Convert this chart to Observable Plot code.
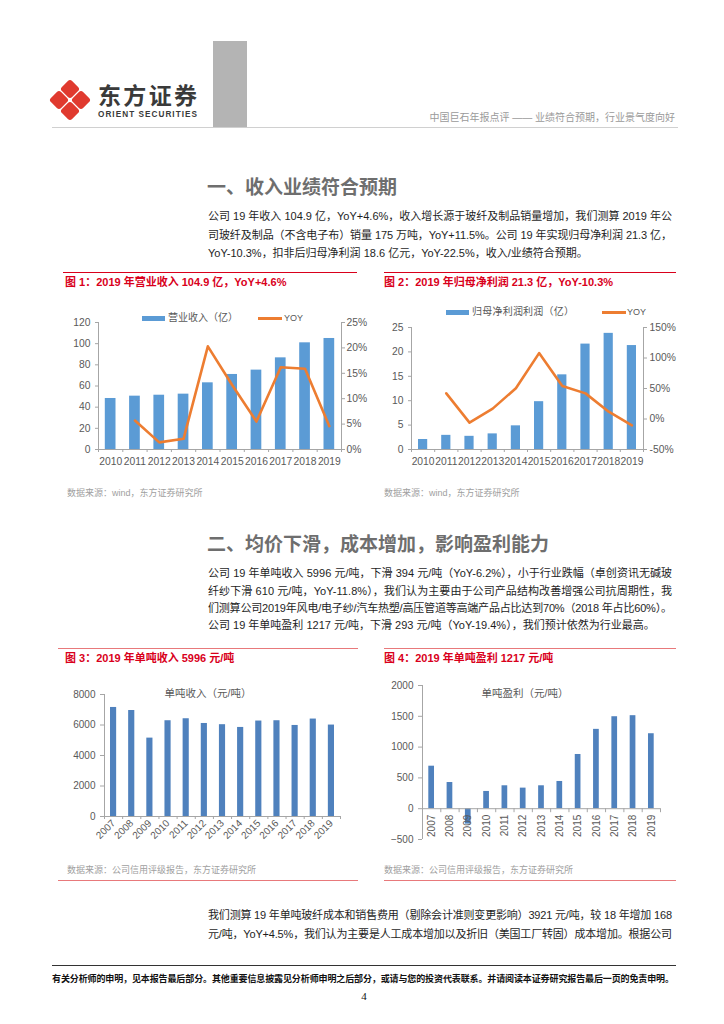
<!DOCTYPE html>
<html><head><meta charset="utf-8">
<script src="https://cdn.jsdelivr.net/npm/d3@7"></script>
<script src="https://cdn.jsdelivr.net/npm/@observablehq/plot@0.6"></script>
<style>
body{margin:0;background:#fff;}
#page{position:relative;width:724px;height:1024px;overflow:hidden;font-family:"Liberation Sans","Noto Sans CJK SC",sans-serif;}
.abs{position:absolute;white-space:nowrap;}
.chart{position:absolute;}
</style></head><body><div id="page"></div>
<script>
// ---------- data ----------
const revYears = [2010, 2011, 2012, 2013, 2014, 2015, 2016, 2017, 2018, 2019];
const revenue = [48.2, 50.4, 51.3, 52.3, 63.0, 70.9, 75.0, 86.6, 100.8, 104.9];
const revenueYoY = [null, 5.7, 1.4, 2.1, 20.3, 12.7, 5.5, 16.2, 15.9, 4.6];
const profit = [2.05, 2.9, 2.7, 3.2, 4.85, 9.8, 15.3, 21.6, 23.8, 21.3];
const profitYoY = [null, 42, -6, 17, 50.5, 108, 54, 42, 12, -10.3];
const unitYears = [2007, 2008, 2009, 2010, 2011, 2012, 2013, 2014, 2015, 2016, 2017, 2018, 2019];
const unitRevenue = [7150, 6950, 5140, 6280, 6410, 6100, 6020, 5840, 6260, 6280, 5970, 6390, 5996];
const unitProfit = [690, 425, -250, 280, 372, 334, 372, 442, 880, 1288, 1493, 1510, 1217];

const revTicks = [0, 20, 40, 60, 80, 100, 120];
const revYoYTicks = [0, 5, 10, 15, 20, 25];
const profitTicks = [0, 5, 10, 15, 20, 25];
const profitYoYTicks = [-50, 0, 50, 100, 150];
const unitRevTicks = [0, 2000, 4000, 6000, 8000];
const unitProfitTicks = [-500, 0, 500, 1000, 1500, 2000];

const header = "中国巨石年报点评 —— 业绩符合预期，行业景气度向好";
const title1 = "一、收入业绩符合预期";
const title2 = "二、均价下滑，成本增加，影响盈利能力";
const para1 = [
  "公司 19 年收入 104.9 亿，YoY+4.6%，收入增长源于玻纤及制品销量增加，我们测算 2019 年公",
  "司玻纤及制品（不含电子布）销量 175 万吨，YoY+11.5%。公司 19 年实现归母净利润 21.3 亿，",
  "YoY-10.3%，扣非后归母净利润 18.6 亿元，YoY-22.5%，收入/业绩符合预期。"
];
const para2 = [
  "公司 19 年单吨收入 5996 元/吨，下滑 394 元/吨（YoY-6.2%），小于行业跌幅（卓创资讯无碱玻",
  "纤纱下滑 610 元/吨，YoY-11.8%），我们认为主要由于公司产品结构改善增强公司抗周期性，我",
  "们测算公司2019年风电/电子纱/汽车热塑/高压管道等高端产品占比达到70%（2018 年占比60%）。",
  "公司 19 年单吨盈利 1217 元/吨，下滑 293 元/吨（YoY-19.4%），我们预计依然为行业最高。"
];
const para3 = [
  "我们测算 19 年单吨玻纤成本和销售费用（剔除会计准则变更影响）3921 元/吨，较 18 年增加 168",
  "元/吨，YoY+4.5%，我们认为主要是人工成本增加以及折旧（美国工厂转固）成本增加。根据公司"
];
const figTitles = [
  "图 1：2019 年营业收入 104.9 亿，YoY+4.6%",
  "图 2：2019 年归母净利润 21.3 亿，YoY-10.3%",
  "图 3：2019 年单吨收入 5996 元/吨",
  "图 4：2019 年单吨盈利 1217 元/吨"
];
const legend1 = ["营业收入（亿）", "YOY"];
const legend2 = ["归母净利润利润（亿）", "YOY"];
const chartLabel3 = "单吨收入（元/吨）";
const chartLabel4 = "单吨盈利（元/吨）";
const source12 = "数据来源：wind，东方证券研究所";
const source34 = "数据来源：公司信用评级报告，东方证券研究所";
const footer = "有关分析师的申明，见本报告最后部分。其他重要信息披露见分析师申明之后部分，或请与您的投资代表联系。并请阅读本证券研究报告最后一页的免责申明。";
const pageNo = "4";

// ---------- helpers ----------
const page = document.getElementById("page");
function box(x, y, w, h, bg) {
  const d = document.createElement("div");
  d.className = "abs";
  Object.assign(d.style, {left: x + "px", top: y + "px", width: w + "px", height: h + "px", background: bg});
  page.appendChild(d); return d;
}
function txt(s, x, yc, size, opts = {}) {
  const d = document.createElement("div");
  d.className = "abs";
  d.textContent = s;
  const lh = size * 1.2;
  Object.assign(d.style, {left: x + "px", top: (yc - lh / 2) + "px", fontSize: size + "px", lineHeight: lh + "px",
    color: opts.color || "#222", fontWeight: opts.bold ? "bold" : "normal"});
  if (opts.font) d.style.fontFamily = opts.font;
  if (opts.ls != null) d.style.letterSpacing = opts.ls + "px";
  page.appendChild(d);
  if (opts.right != null) { d.style.left = (opts.right - d.getBoundingClientRect().width) + "px"; }
  if (opts.center != null) { d.style.left = (opts.center - d.getBoundingClientRect().width / 2) + "px"; }
  if (opts.fit != null) {
    const w = d.getBoundingClientRect().width;
    const n = [...s].length;
    if (n > 1) d.style.letterSpacing = ((opts.fit - w) / (n - 1)) + "px";
  }
  return d;
}
function para(lines, x, y0, dy, width) {
  lines.forEach((s, i) => {
    const last = i === lines.length - 1;
    const d = txt(s, x, y0 + i * dy, 11, {color: "#1e1e1e"});
    const w = d.getBoundingClientRect().width;
    if (!last || w > width) {
      const n = [...s].length;
      d.style.letterSpacing = ((width - w) / (n - 1)) + "px";
    }
  });
}
function addChart(svg, x, y) {
  svg.classList.add("chart");
  svg.style.left = x + "px"; svg.style.top = y + "px";
  svg.style.overflow = "visible";
  page.appendChild(svg);
}

// ---------- header ----------
const logo = document.createElementNS("http://www.w3.org/2000/svg", "svg");
logo.setAttribute("width", 50); logo.setAttribute("height", 50);
logo.style.position = "absolute"; logo.style.left = "45px"; logo.style.top = "75px";
[[25, 14], [14, 25], [36, 25], [25, 36]].forEach(([cx, cy]) => {
  const r = document.createElementNS("http://www.w3.org/2000/svg", "rect");
  r.setAttribute("x", cx - 7.2); r.setAttribute("y", cy - 7.2);
  r.setAttribute("width", 14.4); r.setAttribute("height", 14.4);
  r.setAttribute("rx", 3); r.setAttribute("fill", "#e03a2f");
  r.setAttribute("transform", `rotate(45 ${cx} ${cy})`);
  logo.appendChild(r);
});
page.appendChild(logo);
txt("东方证券", 98, 95, 23, {bold: true, color: "#3a3a3a", font: "'Noto Sans CJK SC'", fit: 99});
txt("ORIENT SECURITIES", 98, 114.5, 8.2, {bold: true, color: "#3a3a3a", fit: 99});
box(213, 41, 34, 86, "#b4b4b4");
box(52, 127, 626, 1, "#d0d0d0");
txt(header, 0, 118, 10, {color: "#9a9a9a", right: 675});

// ---------- section 1 ----------
txt(title1, 207, 186, 19, {bold: true, color: "#6e6e6e", font: "'Noto Sans CJK SC'"});
para(para1, 208, 217, 18.3, 464);

box(63, 272, 294, 1, "#d9001b");
box(384, 272, 292, 1, "#d9001b");
txt(figTitles[0], 65, 283, 11, {bold: true, color: "#d9001b"});
txt(figTitles[1], 384, 283, 11, {bold: true, color: "#d9001b"});

const axisGray = "#a6a6a6", labelGray = "#595959";
const baseStyle = {fontFamily: "Liberation Sans", fontSize: "10.3px", color: labelGray, background: "white"};

// chart 1
{
  const k = revTicks.at(-1) / revYoYTicks.at(-1);
  const data = revYears.map((year, i) => ({year, value: revenue[i], yoy: revenueYoY[i]}));
  const xd = [revYears[0] - 0.5, revYears.at(-1) + 0.5];
  const bounds = d3.range(xd[0], xd[1] + 0.01, 1);
  const svg = Plot.plot({
    width: 306, height: 180, marginLeft: 43, marginRight: 20, marginTop: 22, marginBottom: 31,
    style: baseStyle,
    x: {domain: xd, axis: null, label: null},
    y: {domain: [revTicks[0], revTicks.at(-1)], axis: null, label: null},
    marks: [
      Plot.rectY(data, {x1: d => d.year - 0.5, x2: d => d.year + 0.5, y: "value", fill: "#5b9bd5", insetLeft: 6.8, insetRight: 6.8}),
      Plot.ruleY([revTicks[0]], {stroke: axisGray}),
      Plot.ruleX([xd[0], xd[1]], {stroke: axisGray}),
      Plot.axisX({ticks: bounds, tickSize: 3, tickFormat: () => "", stroke: axisGray, label: null}),
      Plot.axisX({ticks: revYears, tickSize: 0, tickPadding: 8, tickFormat: d => String(d), fill: labelGray, label: null}),
      Plot.axisY({ticks: revTicks, tickSize: 3, tickPadding: 5, stroke: axisGray, fill: labelGray, label: null}),
      Plot.axisY({anchor: "right", ticks: revYoYTicks.map(v => v * k), tickFormat: d => `${Math.round(d / k)}%`, tickSize: 3, tickPadding: 2, stroke: axisGray, fill: labelGray, label: null}),
      Plot.line(data.filter(d => d.yoy != null), {x: "year", y: d => d.yoy * k, stroke: "#ed7d31", strokeWidth: 2.6, strokeLinejoin: "round"})
    ]
  });
  addChart(svg, 55, 300);
  box(142, 316, 23, 5, "#5b9bd5");
  txt(legend1[0], 168, 318, 10, {color: labelGray, fit: 70});
  box(258, 316.5, 24, 3, "#ed7d31");
  txt(legend1[1], 284, 318, 9, {color: labelGray});
  txt(source12, 67, 493, 9, {color: "#a0a0a0"});
}

// chart 2
{
  const lo = profitYoYTicks[0], hi = profitYoYTicks.at(-1);
  const ymax = profitTicks.at(-1);
  const map = v => (v - lo) / (hi - lo) * ymax;
  const data = revYears.map((year, i) => ({year, value: profit[i], yoy: profitYoY[i]}));
  const xd = [revYears[0] - 0.5, revYears.at(-1) + 0.5];
  const bounds = d3.range(xd[0], xd[1] + 0.01, 1);
  const svg = Plot.plot({
    width: 302, height: 180, marginLeft: 36, marginRight: 34, marginTop: 27, marginBottom: 31,
    style: baseStyle,
    x: {domain: xd, axis: null, label: null},
    y: {domain: [0, ymax], axis: null, label: null},
    marks: [
      Plot.rectY(data, {x1: d => d.year - 0.5, x2: d => d.year + 0.5, y: "value", fill: "#5b9bd5", insetLeft: 7, insetRight: 7}),
      Plot.ruleY([0], {stroke: axisGray}),
      Plot.ruleX([xd[0], xd[1]], {stroke: axisGray}),
      Plot.axisX({ticks: bounds, tickSize: 3, tickFormat: () => "", stroke: axisGray, label: null}),
      Plot.axisX({ticks: revYears, tickSize: 0, tickPadding: 8, tickFormat: d => String(d), fill: labelGray, label: null}),
      Plot.axisY({ticks: profitTicks, tickSize: 3, tickPadding: 5, stroke: axisGray, fill: labelGray, label: null}),
      Plot.axisY({anchor: "right", ticks: profitYoYTicks.map(map), tickFormat: d => `${Math.round(d / ymax * (hi - lo) + lo)}%`, tickSize: 3, tickPadding: 3, stroke: axisGray, fill: labelGray, label: null}),
      Plot.line(data.filter(d => d.yoy != null), {x: "year", y: d => map(d.yoy), stroke: "#ed7d31", strokeWidth: 2.6, strokeLinejoin: "round"})
    ]
  });
  addChart(svg, 375, 300);
  box(446, 310, 23, 5, "#5b9bd5");
  txt(legend2[0], 472, 312, 10, {color: labelGray, fit: 102});
  box(602, 310.5, 24, 3, "#ed7d31");
  txt(legend2[1], 627, 312, 9, {color: labelGray});
  txt(source12, 384, 493, 9, {color: "#a0a0a0"});
}

// ---------- section 2 ----------
txt(title2, 207, 543, 19, {bold: true, color: "#6e6e6e", font: "'Noto Sans CJK SC'"});
para(para2, 208, 574, 17.2, 464);

const pink = "#e8797b";
box(58, 648, 300, 1, pink);
box(384, 648, 292, 1, pink);
txt(figTitles[2], 65, 659, 11, {bold: true, color: "#d9001b"});
txt(figTitles[3], 384, 659, 11, {bold: true, color: "#d9001b"});

// chart 3
{
  const data = unitYears.map((year, i) => ({year, value: unitRevenue[i]}));
  const xd = [unitYears[0] - 0.5, unitYears.at(-1) + 0.5];
  const bounds = d3.range(xd[0], xd[1] + 0.01, 1);
  const svg = Plot.plot({
    width: 305, height: 185, marginLeft: 49, marginRight: 20, marginTop: 19, marginBottom: 44,
    style: {...baseStyle, fontSize: "10px"},
    x: {domain: xd, axis: null, label: null},
    y: {domain: [unitRevTicks[0], unitRevTicks.at(-1)], axis: null, label: null},
    marks: [
      Plot.rectY(data, {x1: d => d.year - 0.5, x2: d => d.year + 0.5, y: "value", fill: "#4f81bd", insetLeft: 6, insetRight: 6}),
      Plot.ruleY([0], {stroke: axisGray}),
      Plot.ruleX([xd[0]], {stroke: axisGray}),
      Plot.axisX({ticks: bounds, tickSize: 3, tickFormat: () => "", stroke: axisGray, label: null}),
      Plot.axisX({ticks: unitYears, tickSize: 0, tickPadding: 5, tickRotate: -45, tickFormat: d => String(d), fill: labelGray, label: null}),
      Plot.axisY({ticks: unitRevTicks, tickSize: 4, tickPadding: 5, tickFormat: d => String(d), stroke: axisGray, fill: labelGray, label: null})
    ]
  });
  addChart(svg, 55, 675);
  txt(chartLabel3, 0, 693, 10.5, {color: labelGray, center: 208});
  txt(source34, 67, 870, 9, {color: "#a0a0a0"});
  box(58, 880, 300, 1, pink);
}

// chart 4
{
  const data = unitYears.map((year, i) => ({year, value: unitProfit[i]}));
  const xd = [unitYears[0] - 0.5, unitYears.at(-1) + 0.5];
  const bounds = d3.range(xd[0], xd[1] + 0.01, 1);
  const yd = [unitProfitTicks[0], unitProfitTicks.at(-1)];
  const W = 302, H = 190, mt = 15, mb = 21;
  const zeroDy = -(H - mt - mb) * (0 - yd[0]) / (yd[1] - yd[0]);
  const svg = Plot.plot({
    width: W, height: H, marginLeft: 47, marginRight: 17, marginTop: mt, marginBottom: mb,
    style: {...baseStyle, fontSize: "10px"},
    x: {domain: xd, axis: null, label: null},
    y: {domain: yd, axis: null, label: null},
    marks: [
      Plot.rectY(data, {x1: d => d.year - 0.5, x2: d => d.year + 0.5, y: "value", fill: "#4f81bd", insetLeft: 6.3, insetRight: 6.3}),
      Plot.ruleY([0], {stroke: axisGray}),
      Plot.ruleX([xd[0]], {stroke: axisGray}),
      Plot.axisX({ticks: bounds, tickSize: 4, tickFormat: () => "", stroke: axisGray, dy: zeroDy, label: null}),
      Plot.text(unitYears, {x: d => d, y: d => 0, text: d => String(d), rotate: -90, textAnchor: "end", dy: 6, fill: labelGray}),
      Plot.axisY({ticks: unitProfitTicks, tickSize: 4, tickPadding: 5, tickFormat: d => (d < 0 ? "−" : "") + Math.abs(d), stroke: axisGray, fill: labelGray, label: null})
    ]
  });
  addChart(svg, 375, 670);
  txt(chartLabel4, 0, 693, 10.5, {color: labelGray, center: 525});
  txt(source34, 384, 870, 9, {color: "#a0a0a0"});
  box(384, 880, 292, 1, pink);
}

// ---------- section 3 & footer ----------
para(para3, 208, 916, 18.3, 464);
box(52, 965, 624, 1, "#333");
txt(footer, 52, 979, 9, {bold: true, color: "#111", fit: 622});
txt(pageNo, 0, 997, 11, {color: "#111", font: "'Liberation Serif'", center: 364});
</script>
</body></html>
